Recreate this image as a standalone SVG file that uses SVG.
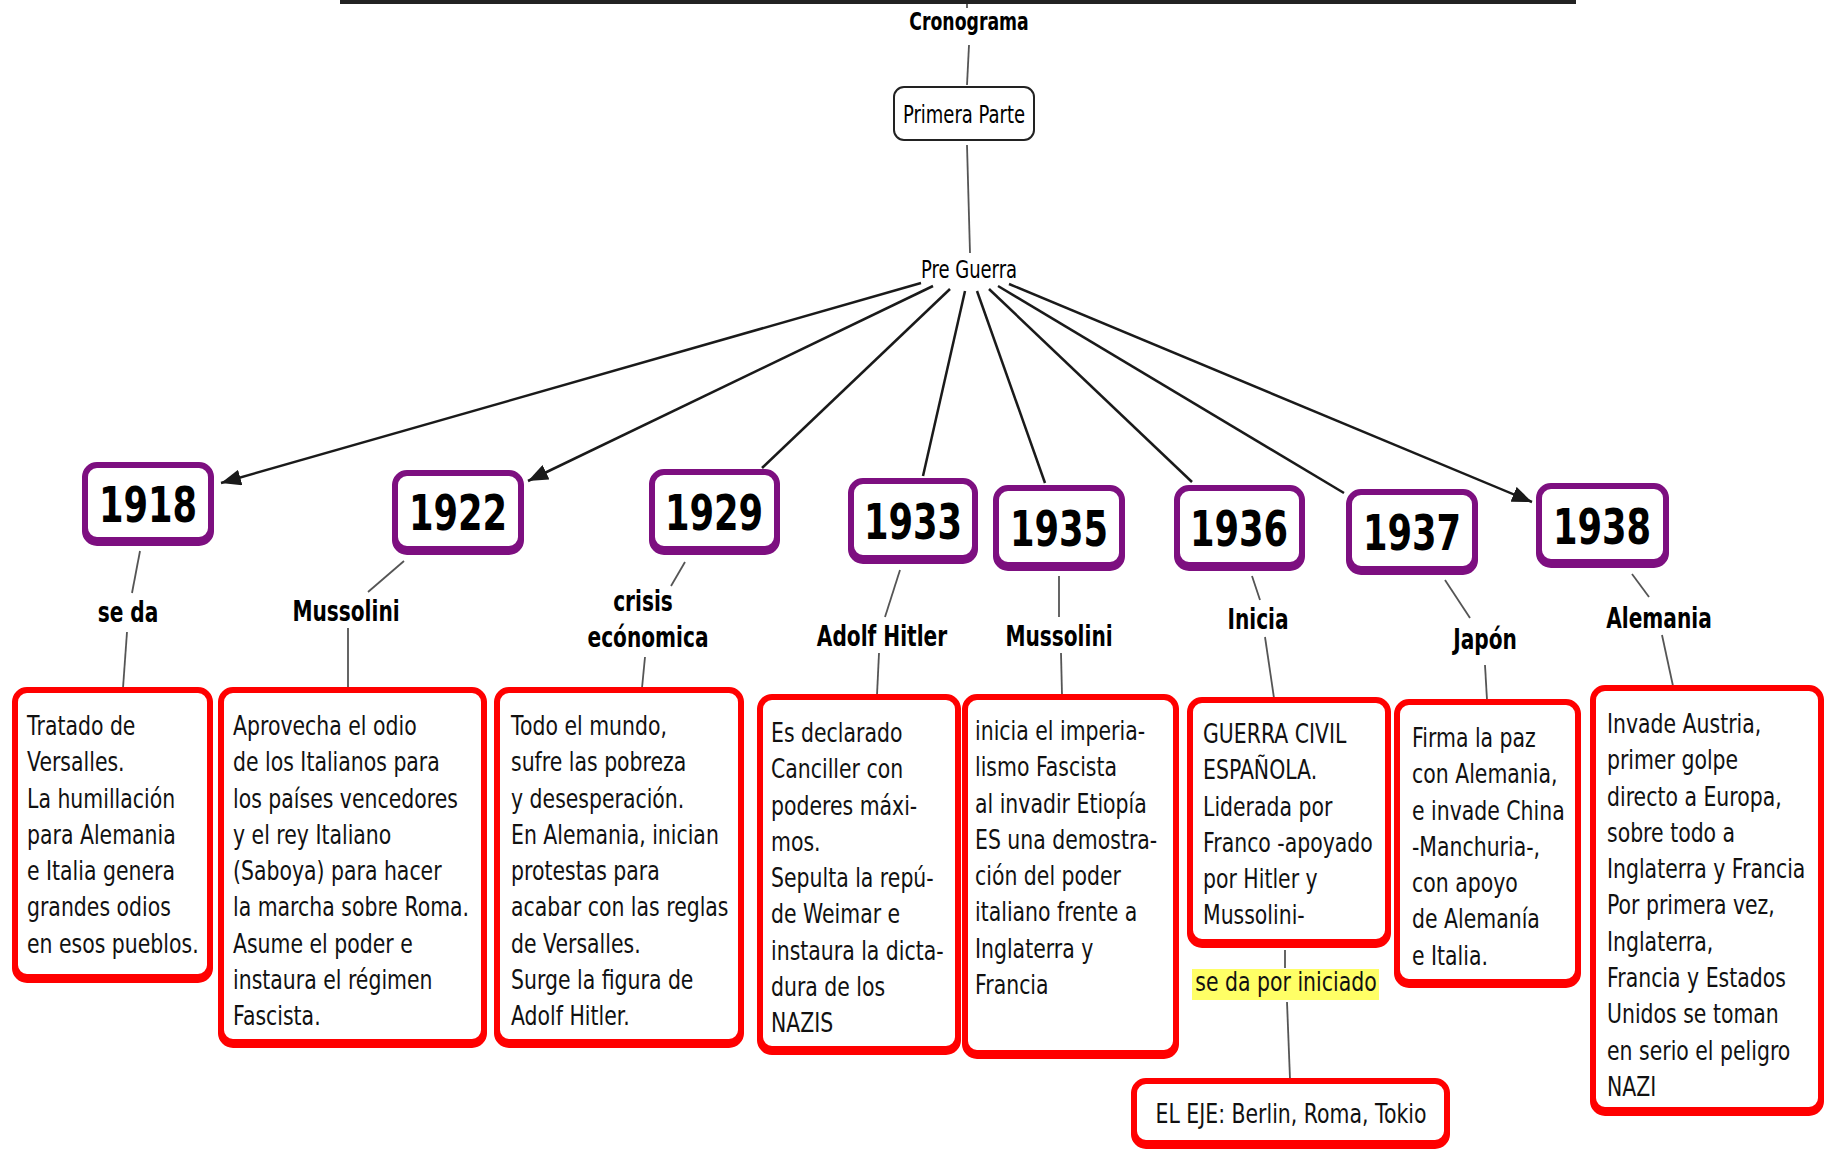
<svg xmlns="http://www.w3.org/2000/svg" width="1826" height="1152" viewBox="0 0 1826 1152">
<style>
.yb{fill:#fff;stroke:#7d0f80;stroke-width:6}
.ys{fill:none;stroke:#7d0f80;stroke-width:6}
.rb{fill:#fff;stroke:#f00;stroke-width:6}
.rs{fill:none;stroke:#f00;stroke-width:6}
.c{stroke:#1a1a1a;stroke-width:2.5;fill:none}
.l{stroke:#555;stroke-width:1.8;fill:none}
.yr{font-family:"DejaVu Sans","Liberation Sans",sans-serif;font-weight:bold;font-size:49px;text-anchor:middle;fill:#000}
.lb{font-family:"DejaVu Sans","Liberation Sans",sans-serif;font-weight:bold;font-size:28px;text-anchor:middle;fill:#000}
.tx{font-family:"DejaVu Sans","Liberation Sans",sans-serif;font-size:27px;fill:#111}
.sm{font-family:"DejaVu Sans","Liberation Sans",sans-serif;font-size:24px;text-anchor:middle;fill:#000}
</style>
<defs>
<marker id="ah" markerUnits="userSpaceOnUse" markerWidth="22" markerHeight="16" refX="20" refY="8" orient="auto">
<path d="M0,0 L20,8 L0,16 Z" fill="#1a1a1a"/>
</marker>
</defs>
<rect width="1826" height="1152" fill="#fff"/>
<rect x="340" y="-1" width="1236" height="5" fill="#222"/>

<g id="connectors">
<line class="l" x1="967" y1="4" x2="967" y2="8"/>
<line class="l" x1="969" y1="45" x2="967" y2="85"/>
<line class="l" x1="967" y1="145" x2="970" y2="253"/>
<line class="c" x1="921" y1="283" x2="221" y2="483" marker-end="url(#ah)"/>
<line class="c" x1="933" y1="286" x2="528" y2="481" marker-end="url(#ah)"/>
<line class="c" x1="950" y1="289" x2="762" y2="468"/>
<line class="c" x1="965" y1="291" x2="923" y2="476"/>
<line class="c" x1="977" y1="291" x2="1045" y2="483"/>
<line class="c" x1="989" y1="289" x2="1192" y2="482"/>
<line class="c" x1="998" y1="286" x2="1344" y2="493"/>
<line class="c" x1="1009" y1="284" x2="1532" y2="502" marker-end="url(#ah)"/>
<line class="l" x1="140" y1="551" x2="132" y2="593"/>
<line class="l" x1="127" y1="632" x2="123" y2="688"/>
<line class="l" x1="404" y1="561" x2="368" y2="592"/>
<line class="l" x1="348" y1="628" x2="348" y2="688"/>
<line class="l" x1="685" y1="562" x2="671" y2="586"/>
<line class="l" x1="645" y1="657" x2="642" y2="688"/>
<line class="l" x1="900" y1="570" x2="885" y2="617"/>
<line class="l" x1="879" y1="653" x2="877" y2="695"/>
<line class="l" x1="1059" y1="576" x2="1059" y2="617"/>
<line class="l" x1="1061" y1="653" x2="1062" y2="695"/>
<line class="l" x1="1252" y1="576" x2="1260" y2="600"/>
<line class="l" x1="1265" y1="637" x2="1274" y2="698"/>
<line class="l" x1="1445" y1="580" x2="1470" y2="618"/>
<line class="l" x1="1485" y1="665" x2="1487" y2="700"/>
<line class="l" x1="1632" y1="574" x2="1649" y2="597"/>
<line class="l" x1="1662" y1="635" x2="1673" y2="686"/>
<line class="l" x1="1285" y1="950" x2="1285" y2="968"/>
<line class="l" x1="1287" y1="1002" x2="1290" y2="1079"/>
</g>

<g id="cronograma"><text class="lb" style="font-size:24px" transform="translate(969 30) scale(0.72 1)">Cronograma</text></g>
<g id="primera-parte">
<rect x="894" y="87" width="140" height="53" rx="10" fill="#fff" stroke="#222" stroke-width="2"/>
<text class="sm" transform="translate(964 123) scale(0.75 1)">Primera Parte</text>
</g>
<g id="pre-guerra"><text class="sm" transform="translate(969 278) scale(0.75 1)">Pre Guerra</text></g>

<g id="y1918"><rect class="ys" x="85" y="468" width="126" height="75" rx="12"/><rect class="yb" x="85" y="465" width="126" height="75" rx="12"/><text class="yr" transform="translate(148 522) scale(0.72 1)">1918</text></g>
<g id="y1922"><rect class="ys" x="395" y="476" width="126" height="76" rx="12"/><rect class="yb" x="395" y="473" width="126" height="76" rx="12"/><text class="yr" transform="translate(458 530) scale(0.72 1)">1922</text></g>
<g id="y1929"><rect class="ys" x="652" y="475" width="125" height="77" rx="12"/><rect class="yb" x="652" y="472" width="125" height="77" rx="12"/><text class="yr" transform="translate(714 530) scale(0.72 1)">1929</text></g>
<g id="y1933"><rect class="ys" x="851" y="484" width="124" height="77" rx="12"/><rect class="yb" x="851" y="481" width="124" height="77" rx="12"/><text class="yr" transform="translate(913 539) scale(0.72 1)">1933</text></g>
<g id="y1935"><rect class="ys" x="996" y="491" width="126" height="77" rx="12"/><rect class="yb" x="996" y="488" width="126" height="77" rx="12"/><text class="yr" transform="translate(1059 546) scale(0.72 1)">1935</text></g>
<g id="y1936"><rect class="ys" x="1177" y="491" width="125" height="77" rx="12"/><rect class="yb" x="1177" y="488" width="125" height="77" rx="12"/><text class="yr" transform="translate(1239 546) scale(0.72 1)">1936</text></g>
<g id="y1937"><rect class="ys" x="1349" y="495" width="126" height="77" rx="12"/><rect class="yb" x="1349" y="492" width="126" height="77" rx="12"/><text class="yr" transform="translate(1412 550) scale(0.72 1)">1937</text></g>
<g id="y1938"><rect class="ys" x="1539" y="489" width="127" height="76" rx="12"/><rect class="yb" x="1539" y="486" width="127" height="76" rx="12"/><text class="yr" transform="translate(1602 544) scale(0.72 1)">1938</text></g>

<g id="lbl-se-da"><text class="lb" transform="translate(128 622) scale(0.72 1)">se da</text></g>
<g id="lbl-mussolini1"><text class="lb" transform="translate(346 621) scale(0.72 1)">Mussolini</text></g>
<g id="lbl-crisis"><text class="lb" transform="translate(643 611) scale(0.72 1)">crisis</text><text class="lb" transform="translate(648 647) scale(0.72 1)">ecónomica</text></g>
<g id="lbl-hitler"><text class="lb" transform="translate(882 646) scale(0.72 1)">Adolf Hitler</text></g>
<g id="lbl-mussolini2"><text class="lb" transform="translate(1059 646) scale(0.72 1)">Mussolini</text></g>
<g id="lbl-inicia"><text class="lb" transform="translate(1258 629) scale(0.72 1)">Inicia</text></g>
<g id="lbl-japon"><text class="lb" transform="translate(1485 649) scale(0.72 1)">Japón</text></g>
<g id="lbl-alemania"><text class="lb" transform="translate(1659 628) scale(0.72 1)">Alemania</text></g>

<g id="b1918"><rect class="rs" x="15" y="693" width="195" height="287" rx="12"/><rect class="rb" x="15" y="690" width="195" height="287" rx="12"/>
<text class="tx" transform="translate(27 735) scale(0.757 1)"><tspan x="0" y="0">Tratado de</tspan><tspan x="0" dy="36.3">Versalles.</tspan><tspan x="0" dy="36.3">La humillación</tspan><tspan x="0" dy="36.3">para Alemania</tspan><tspan x="0" dy="36.3">e Italia genera</tspan><tspan x="0" dy="36.3">grandes odios</tspan><tspan x="0" dy="36.3">en esos pueblos.</tspan></text></g>
<g id="b1922"><rect class="rs" x="221" y="693" width="263" height="352" rx="12"/><rect class="rb" x="221" y="690" width="263" height="352" rx="12"/>
<text class="tx" transform="translate(233 735) scale(0.757 1)"><tspan x="0" y="0">Aprovecha el odio</tspan><tspan x="0" dy="36.3">de los Italianos para</tspan><tspan x="0" dy="36.3">los países vencedores</tspan><tspan x="0" dy="36.3">y el rey Italiano</tspan><tspan x="0" dy="36.3">(Saboya) para hacer</tspan><tspan x="0" dy="36.3">la marcha sobre Roma.</tspan><tspan x="0" dy="36.3">Asume el poder e</tspan><tspan x="0" dy="36.3">instaura el régimen</tspan><tspan x="0" dy="36.3">Fascista.</tspan></text></g>
<g id="b1929"><rect class="rs" x="497" y="693" width="244" height="352" rx="12"/><rect class="rb" x="497" y="690" width="244" height="352" rx="12"/>
<text class="tx" transform="translate(511 735) scale(0.757 1)"><tspan x="0" y="0">Todo el mundo,</tspan><tspan x="0" dy="36.3">sufre las pobreza</tspan><tspan x="0" dy="36.3">y desesperación.</tspan><tspan x="0" dy="36.3">En Alemania, inician</tspan><tspan x="0" dy="36.3">protestas para</tspan><tspan x="0" dy="36.3">acabar con las reglas</tspan><tspan x="0" dy="36.3">de Versalles.</tspan><tspan x="0" dy="36.3">Surge la figura de</tspan><tspan x="0" dy="36.3">Adolf Hitler.</tspan></text></g>
<g id="b1933"><rect class="rs" x="760" y="700" width="198" height="352" rx="12"/><rect class="rb" x="760" y="697" width="198" height="352" rx="12"/>
<text class="tx" transform="translate(771 742) scale(0.757 1)"><tspan x="0" y="0">Es declarado</tspan><tspan x="0" dy="36.3">Canciller con</tspan><tspan x="0" dy="36.3">poderes máxi-</tspan><tspan x="0" dy="36.3">mos.</tspan><tspan x="0" dy="36.3">Sepulta la repú-</tspan><tspan x="0" dy="36.3">de Weimar e</tspan><tspan x="0" dy="36.3">instaura la dicta-</tspan><tspan x="0" dy="36.3">dura de los</tspan><tspan x="0" dy="36.3">NAZIS</tspan></text></g>
<g id="b1935"><rect class="rs" x="965" y="700" width="211" height="356" rx="12"/><rect class="rb" x="965" y="697" width="211" height="356" rx="12"/>
<text class="tx" transform="translate(975 740) scale(0.757 1)"><tspan x="0" y="0">inicia el imperia-</tspan><tspan x="0" dy="36.3">lismo Fascista</tspan><tspan x="0" dy="36.3">al invadir Etiopía</tspan><tspan x="0" dy="36.3">ES una demostra-</tspan><tspan x="0" dy="36.3">ción del poder</tspan><tspan x="0" dy="36.3">italiano frente a</tspan><tspan x="0" dy="36.3">Inglaterra y</tspan><tspan x="0" dy="36.3">Francia</tspan></text></g>
<g id="b1936"><rect class="rs" x="1190" y="703" width="198" height="242" rx="12"/><rect class="rb" x="1190" y="700" width="198" height="242" rx="12"/>
<text class="tx" transform="translate(1203 743) scale(0.757 1)"><tspan x="0" y="0">GUERRA CIVIL</tspan><tspan x="0" dy="36.3">ESPAÑOLA.</tspan><tspan x="0" dy="36.3">Liderada por</tspan><tspan x="0" dy="36.3">Franco -apoyado</tspan><tspan x="0" dy="36.3">por Hitler y</tspan><tspan x="0" dy="36.3">Mussolini-</tspan></text></g>
<g id="b1937"><rect class="rs" x="1397" y="705" width="181" height="280" rx="12"/><rect class="rb" x="1397" y="702" width="181" height="280" rx="12"/>
<text class="tx" transform="translate(1412 747) scale(0.757 1)"><tspan x="0" y="0">Firma la paz</tspan><tspan x="0" dy="36.3">con Alemania,</tspan><tspan x="0" dy="36.3">e invade China</tspan><tspan x="0" dy="36.3">-Manchuria-,</tspan><tspan x="0" dy="36.3">con apoyo</tspan><tspan x="0" dy="36.3">de Alemanía</tspan><tspan x="0" dy="36.3">e Italia.</tspan></text></g>
<g id="b1938"><rect class="rs" x="1593" y="691" width="228" height="422" rx="12"/><rect class="rb" x="1593" y="688" width="228" height="422" rx="12"/>
<text class="tx" transform="translate(1607 733) scale(0.757 1)"><tspan x="0" y="0">Invade Austria,</tspan><tspan x="0" dy="36.3">primer golpe</tspan><tspan x="0" dy="36.3">directo a Europa,</tspan><tspan x="0" dy="36.3">sobre todo a</tspan><tspan x="0" dy="36.3">Inglaterra y Francia</tspan><tspan x="0" dy="36.3">Por primera vez,</tspan><tspan x="0" dy="36.3">Inglaterra,</tspan><tspan x="0" dy="36.3">Francia y Estados</tspan><tspan x="0" dy="36.3">Unidos se toman</tspan><tspan x="0" dy="36.3">en serio el peligro</tspan><tspan x="0" dy="36.3">NAZI</tspan></text></g>

<g id="lbl-se-da-por-iniciado"><rect x="1192" y="969" width="187" height="31" fill="#ffff66"/>
<text class="tx" text-anchor="middle" transform="translate(1286 991) scale(0.757 1)">se da por iniciado</text></g>
<g id="b-eje"><rect class="rs" x="1134" y="1084" width="313" height="62" rx="12"/><rect class="rb" x="1134" y="1081" width="313" height="62" rx="12"/>
<text class="tx" text-anchor="middle" transform="translate(1291 1123) scale(0.757 1)">EL EJE: Berlin, Roma, Tokio</text></g>
</svg>
